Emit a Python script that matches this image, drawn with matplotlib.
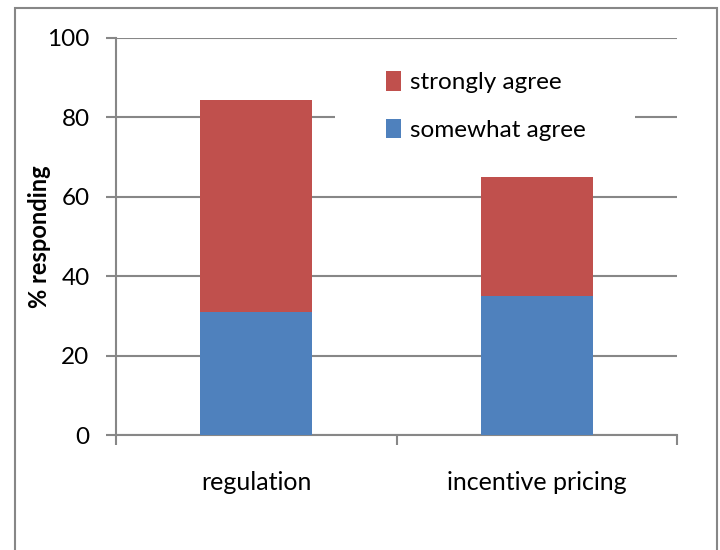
import matplotlib
matplotlib.use("Agg")
import matplotlib.pyplot as plt
from matplotlib.patches import Rectangle

categories = ["regulation", "incentive pricing"]
somewhat_agree = [31, 35]
strongly_agree = [53.5, 30]
y_ticks = [0, 20, 40, 60, 80, 100]

plt.rcParams['font.family'] = ['Lato', 'DejaVu Sans']
grey = '#878787'

fig = plt.figure(figsize=(7.2, 5.5), dpi=100)
ax = fig.add_axes([116/720, 1-435/550, (677-116)/720, (435-38)/550])

x = list(range(len(categories)))
b1 = ax.bar(x, somewhat_agree, width=0.4, color='#4F81BD', label='somewhat agree', zorder=3)
b2 = ax.bar(x, strongly_agree, width=0.4, bottom=somewhat_agree, color='#C0504D',
            label='strongly agree', zorder=3)

ax.set_xlim(-0.5, 1.5)
ax.set_ylim(0, 100)
ax.set_yticks(y_ticks)
ax.set_yticklabels([str(t) for t in y_ticks], fontsize=17.5)
ax.set_xticks([-0.5, 0.5, 1.5])
ax.set_xticklabels([])
ax.set_xticks(x, minor=True)
ax.set_xticklabels(categories, minor=True, fontsize=18)
ax.tick_params(axis='x', which='minor', length=0, pad=26)
ax.tick_params(axis='x', which='major', length=7, width=1.5, color=grey, direction='out')
ax.tick_params(axis='y', length=7, width=1.5, color=grey, direction='out', pad=12)

ax.yaxis.grid(True, color=grey, linewidth=1.5, zorder=0)
ax.set_axisbelow(True)
for s in ['top', 'right']:
    ax.spines[s].set_visible(False)
for s in ['left', 'bottom']:
    ax.spines[s].set_color(grey)
    ax.spines[s].set_linewidth(1.5)

ax.set_ylabel('% responding', fontsize=17, fontweight='bold', labelpad=-3)

# white legend area covering the gridline
ax.add_patch(Rectangle((335/720, 1-150/550), 300/720, 90/550,
                       transform=fig.transFigure, facecolor='white',
                       edgecolor='none', zorder=2, clip_on=False))

leg = fig.legend([b2, b1], ['strongly agree', 'somewhat agree'],
                 loc='upper left', bbox_to_anchor=(374/720, 1-59/550),
                 fontsize=17.5, frameon=False, handlelength=0.62, handleheight=0.85,
                 handletextpad=0.35, labelspacing=1.05, borderpad=0)

fig.patches.append(Rectangle((15/720, -0.1), (717-15)/720, 1.1-8/550,
                             transform=fig.transFigure, fill=False,
                             edgecolor=grey, linewidth=1.5))

fig.savefig('out.png', dpi=100)
